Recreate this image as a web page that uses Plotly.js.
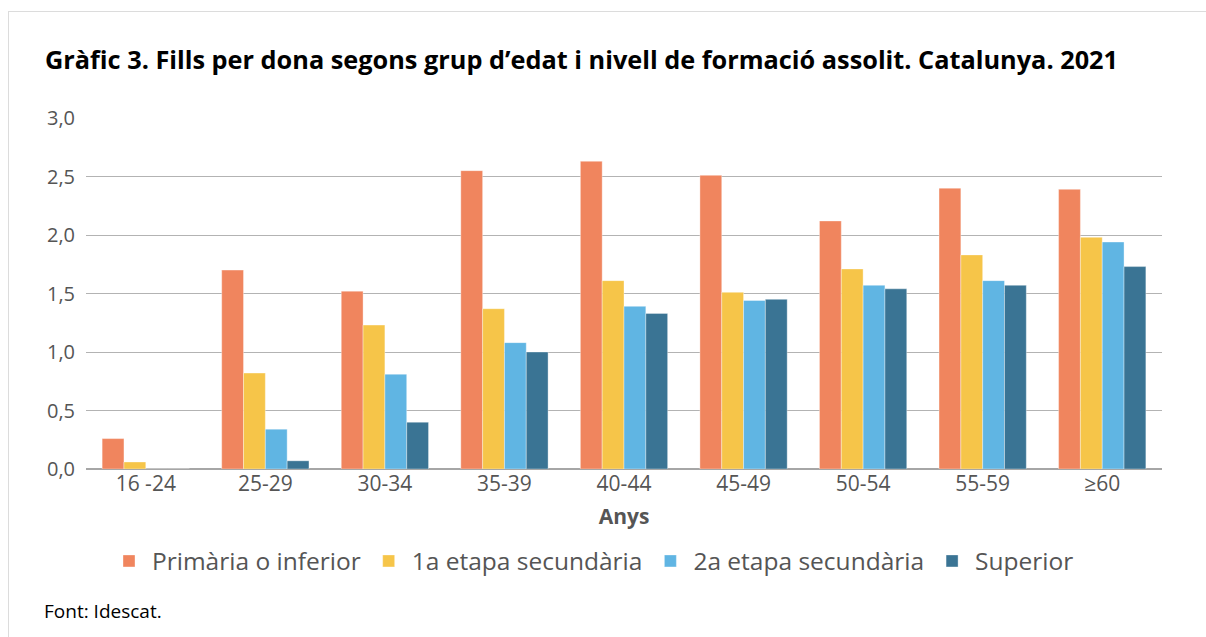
<!DOCTYPE html>
<html>
<head>
<meta charset="utf-8">
<script src="https://cdn.plot.ly/plotly-3.0.1.min.js"></script>
<style>
  html, body { margin: 0; padding: 0; background: #fff; }
  #wrap { position: relative; width: 1206px; height: 637px; overflow: hidden; }
  #frame { position: absolute; left: 8px; top: 11px; width: 1300px; height: 800px; border: 1px solid #dcdcdc; box-sizing: border-box; }
  #chart { position: absolute; left: 0; top: 0; width: 1206px; height: 637px; }
</style>
</head>
<body>
<div id="wrap">
  <div id="frame"></div>
  <div id="chart"></div>
</div>
<script>
const categories = ["16 -24", "25-29", "30-34", "35-39", "40-44", "45-49", "50-54", "55-59", "≥60"];
const primaria   = [0.26, 1.70, 1.52, 2.55, 2.63, 2.51, 2.12, 2.40, 2.39];
const etapa1     = [0.06, 0.82, 1.23, 1.37, 1.61, 1.51, 1.71, 1.83, 1.98];
const etapa2     = [0.00, 0.34, 0.81, 1.08, 1.39, 1.44, 1.57, 1.61, 1.94];
const superior   = [0.00, 0.07, 0.40, 1.00, 1.33, 1.45, 1.54, 1.57, 1.73];
const seriesNames = ["Primària o inferior", "1a etapa secundària", "2a etapa secundària", "Superior"];
const colors = ["#f0855e", "#f6c549", "#60b5e3", "#3a7494"];

const seriesData = [primaria, etapa1, etapa2, superior];
const traces = seriesData.map((vals, i) => ({
  type: "bar",
  name: seriesNames[i],
  x: categories,
  y: vals,
  marker: { color: colors[i], line: { color: "rgba(255,255,255,0.6)", width: 0.6 } },
  hoverinfo: "x+y+name"
}));

const font = "'Open Sans', 'Noto Sans', sans-serif";
const layout = {
  width: 1206, height: 637,
  paper_bgcolor: "rgba(0,0,0,0)",
  plot_bgcolor: "rgba(0,0,0,0)",
  margin: { l: 86, r: 44, t: 118, b: 168 },
  separators: ",.",
  barmode: "group",
  bargap: 0.27,
  bargroupgap: 0,
  font: { family: font, color: "#555555", size: 20 },
  title: {
    text: "<b>Gràfic 3. Fills per dona segons grup d’edat i nivell de formació assolit. Catalunya. 2021</b>",
    x: 45 / 1206, xref: "container", xanchor: "left",
    y: 1 - 60 / 637, yref: "container", yanchor: "middle",
    font: { family: font, size: 25.3, color: "#000000" }
  },
  xaxis: {
    type: "category",
    tickfont: { size: 21, color: "#555555" },
    ticks: "", showgrid: false, showline: false, zeroline: false,
    title: { text: "<b>Anys</b>", font: { size: 21, color: "#555555" }, standoff: 13 }
  },
  yaxis: {
    range: [0, 3.0],
    dtick: 0.5, tick0: 0,
    tickformat: ".1f",
    tickfont: { size: 20, color: "#555555" },
    showgrid: true, gridcolor: "#b3b3b3", gridwidth: 1,
    zeroline: true, zerolinecolor: "#a6a6a6", zerolinewidth: 2.5,
    showline: false, ticks: "", ticklabelstandoff: 10
  },
  legend: {
    orientation: "h",
    xref: "container", yref: "container",
    x: 106 / 1206, xanchor: "left",
    y: 1 - 561 / 637, yanchor: "middle",
    font: { size: 24.5, color: "#555555" },
    itemwidth: 36,
    traceorder: "normal"
  },
  showlegend: true,
  annotations: [{
    text: "Font: Idescat.",
    xref: "paper", yref: "paper",
    x: -44 / 1076, xanchor: "left",
    y: -(611 - 469) / 351, yanchor: "middle",
    showarrow: false,
    font: { family: font, size: 19, color: "#000000" }
  }]
};

Plotly.newPlot("chart", traces, layout, { displayModeBar: false, staticPlot: true });
</script>
</body>
</html>
